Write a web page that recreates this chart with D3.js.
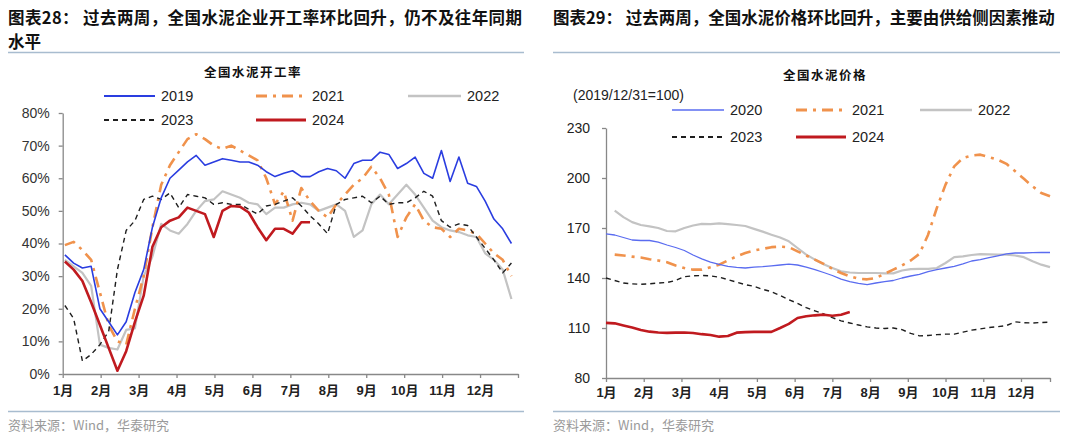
<!DOCTYPE html>
<html><head><meta charset="utf-8">
<script src="https://cdn.jsdelivr.net/npm/d3@7"></script>
<style>
body{margin:0;background:#fff;}
svg{display:block;}
text{font-family:"Liberation Sans","Noto Sans CJK SC",sans-serif;}
.cjk{font-family:"Noto Sans CJK SC","Liberation Sans",sans-serif;}
</style></head>
<body><svg id="c" width="1080" height="440"></svg>
<script>
// ---------- data ----------
const monthLabels = ["1月","2月","3月","4月","5月","6月","7月","8月","9月","10月","11月","12月"];
const leftTicks = [0,10,20,30,40,50,60,70,80];
const rightTicks = [80,110,140,170,200,230];

// 全国水泥开工率 (%), weekly
const rate2019 = [36.5,34,32.5,33,20,16,12,16,25,32,45,54,60,62.5,65,67,64,65,66,65.5,65,65,64,62,60.5,61.5,62.3,60.5,60.5,62,63,62.3,60,64.5,65.5,65.5,68,67.3,63,64.5,66.5,61.5,60,68.5,59,66.5,58.5,57.5,53,47.5,44.5,40];
const rate2021 = [39.5,40.5,38,35,25,15,10,9,20,30,45,58,64,68,72,73.5,72,70,69,70,68.5,67,65.5,60,52,56,47,57,53,50,48,52,55,58,60,63.5,60,55,42,48,52,47,45,44.5,42,44.5,44,43,40,37,35,30];
const rate2022 = [35,33,31,27,9,8,7.5,13.5,14,30,36,46,44,43,46,50,53,53.5,56,55,54,52.5,52,49,51,51,52,52.5,52,50,51,52,50,42,44,52,55,52,55,58,55,51,47,45,44,43.5,42.5,42,37,35,32,23];
const rate2023 = [21,17,4,6,9,13,32,44,47,53.5,54.5,53.5,55.5,51,55,54.5,54,52,52.5,52,52,50.5,49,51.5,52,53,54,51.5,48.5,46,43,52,53.5,54,54.5,52.5,54.5,52,52.5,52.5,54,56,54.5,47,45,46,45.5,42,38.5,35,31,34];
const rate2024 = [34.5,32,28.5,22,15,8,1,7,16,24,39,45,47,48,51,50,49,42,50,51.5,51.3,49.5,45,41,44.5,44.5,43,46.5,46.5];

// 全国水泥价格 (2019/12/31=100), weekly
const price2020 = [166.5,165.8,164.3,162.8,162.5,162.5,161.5,159.8,158.3,156.5,153.8,151.5,149.5,148.2,147,146.4,146,146.5,146.8,147.3,147.8,148.3,147.8,146.5,145,143.3,141.5,139.3,137.8,136.8,136,137,137.8,138.5,140,141.2,142.2,143.8,145,146,147,148.5,150.2,151,152.2,153.3,154.5,155,155,155.2,155.3,155.3];
const price2021 = [null,154,153.5,152.8,152.3,151.3,150.5,149.5,147.5,146,145,145,146.5,148,150.5,153,155,156.5,157.5,158.5,158.8,158.5,156,153.5,151,148.5,145.5,143,141,139.6,139.2,140,142.5,145,147.5,150.5,154.5,166,182,196,207,212,213.5,214,212.5,211,208.5,204,199.5,195,191,189];
const price2022 = [null,180.4,176.5,173.5,171.8,171,170,168.2,168,170,171.5,172.5,172.3,172.8,172.3,171.8,171.2,169.5,167.8,166,164.3,162,158,154,151,148.3,146,144,143.3,143,143,143,142.8,142.8,144.5,145.3,145.5,145.5,146,149,152.5,153,153.8,154.3,154.2,154,154,153.5,152.5,150,148,146.5];
const price2023 = [140,138.5,137,136.5,136.2,136.5,137,137.3,138.5,140.8,141.3,141.5,141.3,140.5,139,137.5,136,135,133.2,131.8,129.5,127,124.8,122.2,120.3,118.5,116.2,114.3,113,111.8,110.7,110,109.7,110,109,106.8,105.3,105.5,106,106.3,106.3,107.5,108.7,109.5,110.3,110.8,111.5,113.7,113.2,113,113.3,113.5];
const price2024 = [113.1,112.8,111.5,110.3,108.8,107.8,107.3,107.1,107.2,107.3,107,106.3,105.8,104.8,105.2,107.2,107.5,107.7,107.7,107.7,110,112.5,116,117,117.6,118,117.3,118,119.6];

// ---------- styles ----------
const ST = {
  blueL:{stroke:"#2a3de0",w:1.6,dash:null},
  blueR:{stroke:"#5a6cf0",w:1.3,dash:null},
  orange:{stroke:"#f0924c",w:2.6,dash:"11,6,3,6"},
  gray:{stroke:"#c3c3c3",w:2.2,dash:null},
  black:{stroke:"#1e1e1e",w:1.4,dash:"5,4"},
  red:{stroke:"#c01a1f",w:2.6,dash:null}
};

const svg = d3.select("#c");
svg.append("rect").attr("width",1080).attr("height",440).attr("fill","#fff");

// headers
function header(x, lines, lineEnd, firstLen){
  lines.forEach((t,i)=>{
    const tx = svg.append("text").attr("class","cjk").attr("x",x).attr("y",24+i*24)
      .attr("font-size",16.5).attr("font-weight","bold").attr("fill","#111").text(t);
    if(i===0 && firstLen) tx.attr("textLength",firstLen).attr("lengthAdjust","spacing");
  });
  svg.append("line").attr("x1",x).attr("x2",lineEnd).attr("y1",52.5).attr("y2",52.5)
    .attr("stroke","#a8bccf").attr("stroke-width",1.5);
  svg.append("line").attr("x1",x).attr("x2",lineEnd).attr("y1",411.5).attr("y2",411.5)
    .attr("stroke","#a8bccf").attr("stroke-width",1.5);
  svg.append("text").attr("class","cjk").attr("x",x).attr("y",430).attr("font-size",13)
    .attr("fill","#9a9a9a").text("资料来源：Wind，华泰研究");
}
header(8,["图表28：  过去两周，全国水泥企业开工率环比回升，仍不及往年同期","水平"],524,514);
header(553,["图表29：  过去两周，全国水泥价格环比回升，主要由供给侧因素推动"],1060,null);

function drawLine(g, data, xf, y, st){
  const line = d3.line().defined(d=>d!=null).x((d,i)=>xf(i)).y(d=>y(d));
  g.append("path").datum(data).attr("d",line).attr("fill","none")
    .attr("stroke",st.stroke).attr("stroke-width",st.w)
    .attr("stroke-dasharray",st.dash).attr("stroke-linejoin","round");
}
function legendItem(g,x1,x2,y,label,st){
  g.append("line").attr("x1",x1).attr("x2",x2).attr("y1",y).attr("y2",y)
    .attr("stroke",st.stroke).attr("stroke-width",st.w+0.4).attr("stroke-dasharray",st.dash);
  g.append("text").attr("x",x2+6).attr("y",y+5).attr("font-size",14.5).attr("fill","#222").text(label);
}
function styleAxis(a){
  a.selectAll("path.domain").attr("stroke","#888").attr("stroke-width",1.3);
  a.selectAll(".tick line").attr("stroke","#888").attr("stroke-width",1.3);
}

// ---------- left chart ----------
{
  const g = svg.append("g");
  const x = d3.scaleLinear().domain([0,12]).range([62.7,518]);
  const y = d3.scaleLinear().domain([0,80]).range([374,113]);
  const xf = i => x((i+0.25)*12/52);

  const ay = g.append("g").attr("transform","translate(62.7,0)")
    .call(d3.axisLeft(y).tickValues(leftTicks).tickFormat(d=>d+"%").tickSize(4).tickSizeOuter(0).tickPadding(9));
  ay.selectAll("text").attr("font-size",14).attr("fill","#333").attr("font-family","Liberation Sans");
  styleAxis(ay);
  const ax = g.append("g").attr("transform","translate(0,374)")
    .call(d3.axisBottom(x).tickValues(d3.range(13)).tickFormat(d=>d<12?monthLabels[d]:"").tickSize(4).tickSizeOuter(0).tickPadding(8));
  ax.selectAll("text").attr("font-size",13).attr("font-weight","bold").attr("fill","#222");
  styleAxis(ax);

  drawLine(g, rate2022, xf, y, ST.gray);
  drawLine(g, rate2021, xf, y, ST.orange);
  drawLine(g, rate2023, xf, y, ST.black);
  drawLine(g, rate2019, xf, y, ST.blueL);
  drawLine(g, rate2024, xf, y, ST.red);

  g.append("text").attr("class","cjk").attr("x",253).attr("y",77).attr("text-anchor","middle")
    .attr("font-size",12.5).attr("font-weight","bold").attr("letter-spacing",1.5).attr("fill","#111").text("全国水泥开工率");
  legendItem(g,104,155,96,"2019",ST.blueL);
  legendItem(g,256,306,96,"2021",ST.orange);
  legendItem(g,408,461,96,"2022",ST.gray);
  legendItem(g,104,155,120,"2023",ST.black);
  legendItem(g,256,306,120,"2024",ST.red);
}

// ---------- right chart ----------
{
  const g = svg.append("g");
  const endM = 51*12/52;
  const x = d3.scaleLinear().domain([0,endM]).range([606,1050]);
  const y = d3.scaleLinear().domain([80,230]).range([378,128]);
  const xf = i => x(i*12/52);

  const ay = g.append("g").attr("transform","translate(606,0)")
    .call(d3.axisLeft(y).tickValues(rightTicks).tickSize(4).tickSizeOuter(0).tickPadding(12));
  ay.selectAll("text").attr("font-size",14).attr("fill","#222").attr("font-family","Liberation Sans");
  styleAxis(ay);
  const ax = g.append("g").attr("transform","translate(0,378)")
    .call(d3.axisBottom(x).tickValues(d3.range(12).concat([endM])).tickFormat(d=>d<12&&Number.isInteger(d)?monthLabels[d]:"").tickSize(4).tickSizeOuter(0).tickPadding(6));
  ax.selectAll("text").attr("font-size",13).attr("font-weight","bold").attr("fill","#222");
  styleAxis(ax);

  drawLine(g, price2022, xf, y, ST.gray);
  drawLine(g, price2021, xf, y, ST.orange);
  drawLine(g, price2020, xf, y, ST.blueR);
  drawLine(g, price2023, xf, y, ST.black);
  drawLine(g, price2024, xf, y, ST.red);

  g.append("text").attr("class","cjk").attr("x",825).attr("y",80).attr("text-anchor","middle")
    .attr("font-size",12.5).attr("font-weight","bold").attr("letter-spacing",1.5).attr("fill","#111").text("全国水泥价格");
  g.append("text").attr("x",573).attr("y",100).attr("font-size",14).attr("fill","#222").text("(2019/12/31=100)");
  legendItem(g,672,724,110,"2020",ST.blueR);
  legendItem(g,796,846,110,"2021",ST.orange);
  legendItem(g,920,972,110,"2022",ST.gray);
  legendItem(g,672,724,137,"2023",ST.black);
  legendItem(g,796,846,137,"2024",ST.red);
}
</script></body></html>
